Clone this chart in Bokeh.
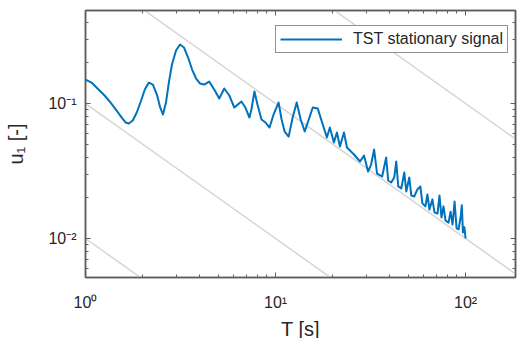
from bokeh.plotting import figure
from bokeh.models import LogAxis, FixedTicker, Legend, LegendItem, Range1d
from bokeh.embed import file_html
from bokeh.resources import INLINE

# ---- data ----
T = [1.000, 1.076, 1.157, 1.260, 1.356, 1.459, 1.551, 1.628, 1.689, 1.773,
     1.861, 1.954, 2.052, 2.154, 2.262, 2.375, 2.464, 2.555, 2.651, 2.750,
     2.851, 2.994, 3.143, 3.300, 3.465, 3.638, 3.819, 4.010, 4.210, 4.475,
     4.756, 5.054, 5.373, 5.710, 6.069, 6.610, 6.940, 7.286, 7.464, 7.743,
     8.031, 8.434, 8.855, 9.297, 9.759, 10.37, 10.76, 11.16, 11.72, 12.30,
     12.92, 13.56, 14.24, 14.95, 15.70, 16.68, 17.51, 18.62, 19.31, 20.27,
     21.03, 21.81, 22.90, 23.75, 25.86, 27.83, 29.21, 30.67, 31.81, 33.00,
     34.22, 36.38, 38.19, 39.14, 40.60, 42.11, 43.15, 44.21, 45.86, 47.56,
     48.74, 50.54, 51.80, 53.73, 55.72, 57.80, 59.23, 61.43, 62.95, 64.50,
     66.91, 68.55, 71.11, 72.86, 74.64, 76.49, 78.38, 81.30, 83.30, 85.36,
     87.47, 89.63, 91.84, 94.08, 95.5, 96.8, 98.5, 100.0]
u = [0.1506, 0.1430, 0.1292, 0.1147, 0.1017, 0.0887, 0.0787, 0.0723, 0.0711, 0.0748,
     0.0858, 0.1035, 0.1270, 0.1430, 0.1382, 0.1166, 0.0950, 0.0829, 0.1017, 0.1455,
     0.1945, 0.2470, 0.2735, 0.2600, 0.2192, 0.1786, 0.1532, 0.1406, 0.1382, 0.1455,
     0.1270, 0.1089, 0.1292, 0.1147, 0.0934, 0.1035, 0.0934, 0.0787, 0.0903, 0.1227,
     0.0983, 0.0761, 0.0723, 0.0664, 0.0829, 0.1017, 0.0761, 0.0620, 0.0569, 0.0787,
     0.1017, 0.0761, 0.0620, 0.0761, 0.0934, 0.0918, 0.0736, 0.0560, 0.0664, 0.0514,
     0.0610, 0.0480, 0.0610, 0.0472, 0.0419, 0.0372, 0.0412, 0.0313, 0.0353, 0.0456,
     0.0303, 0.0288, 0.0398, 0.0269, 0.0260, 0.0283, 0.0372, 0.0243, 0.0235, 0.0308,
     0.0223, 0.0283, 0.0208, 0.0205, 0.0231, 0.0243, 0.0182, 0.0173, 0.0212, 0.0164,
     0.0195, 0.0156, 0.0153, 0.0208, 0.0143, 0.0173, 0.0136, 0.0131, 0.0158, 0.0127,
     0.0188, 0.0119, 0.0117, 0.0143, 0.0176, 0.0111, 0.0121, 0.0100]

ref_c = [0.01, 0.1, 1.0, 10.0]          # guide lines u = c / T
x_lim = [1.0, 183.0]
y_lim = [0.00514, 0.489]
x_major = [1, 10, 100]
x_major_labels = ["10⁰", "10¹", "10²"]
x_minor = [2, 3, 4, 5, 6, 7, 8, 9, 20, 30, 40, 50, 60, 70, 80, 90]
y_major = [0.01, 0.1]
y_major_labels = ["10⁻²", "10⁻¹"]
y_minor = [0.006, 0.007, 0.008, 0.009, 0.02, 0.03, 0.04, 0.05, 0.06, 0.07,
           0.08, 0.09, 0.2, 0.3, 0.4]
legend_label = "TST stationary signal"

FONT = "Liberation Sans"
AX = "#5e5e5e"
TXT = "#262626"

p = figure(frame_width=430, frame_height=267,
           x_axis_type="log", y_axis_type="log",
           x_range=Range1d(*x_lim), y_range=Range1d(*y_lim),
           output_backend="svg", toolbar_location=None,
           min_border_left=85, min_border_right=4,
           min_border_top=10, min_border_bottom=50,
           background_fill_color="white", border_fill_color="white")
p.grid.visible = False
p.outline_line_color = AX
p.outline_line_width = 1.5

for c in ref_c:
    p.line(x_lim, [c / x for x in x_lim], line_color="#d6d6d6", line_width=1.5)

r = p.line(T, u, line_color="#0072BD", line_width=2, line_join="round")

xt = FixedTicker(ticks=x_major, minor_ticks=x_minor)
yt = FixedTicker(ticks=y_major, minor_ticks=y_minor)

def style(ax):
    ax.axis_line_color = AX
    ax.axis_line_width = 1.5
    ax.major_tick_in = 5
    ax.major_tick_out = 0
    ax.minor_tick_in = 3
    ax.minor_tick_out = 0
    ax.major_tick_line_color = AX
    ax.minor_tick_line_color = AX
    ax.major_label_text_font = FONT
    ax.major_label_text_font_size = "16px"
    ax.major_label_text_color = TXT
    ax.axis_label_text_font = FONT
    ax.axis_label_text_font_size = "20px"
    ax.axis_label_text_font_style = "normal"
    ax.axis_label_text_color = TXT

xa = p.xaxis[0]
xa.ticker = xt
xa.major_label_overrides = {float(k): v for k, v in zip(x_major, x_major_labels)}
style(xa)
xa.major_label_standoff = 16
xa.axis_label = "T [s]"
xa.axis_label_standoff = 4

ya = p.yaxis[0]
ya.ticker = yt
ya.major_label_overrides = {float(k): v for k, v in zip(y_major, y_major_labels)}
style(ya)
ya.major_label_standoff = 9
ya.axis_label = "u₁ [-]"
ya.axis_label_standoff = 18

top = LogAxis(ticker=xt)
style(top)
top.major_label_text_font_size = "1px"
top.major_label_text_alpha = 0
top.major_label_standoff = 0
p.add_layout(top, "above")

right = LogAxis(ticker=yt)
style(right)
right.major_label_text_font_size = "1px"
right.major_label_text_alpha = 0
right.major_label_standoff = 0
p.add_layout(right, "right")

legend = Legend(items=[LegendItem(label=legend_label, renderers=[r])],
                location=(190, 224))
legend.label_text_font = FONT
legend.label_text_font_size = "16px"
legend.label_text_color = TXT
legend.padding = 4
legend.margin = 0
legend.glyph_width = 62
legend.glyph_height = 18
legend.label_height = 18
legend.label_standoff = 11
legend.border_line_color = "#262626"
legend.border_line_width = 1
legend.background_fill_color = "white"
legend.background_fill_alpha = 1.0
p.add_layout(legend, "center")

open("out.html", "w").write(file_html(p, INLINE))
